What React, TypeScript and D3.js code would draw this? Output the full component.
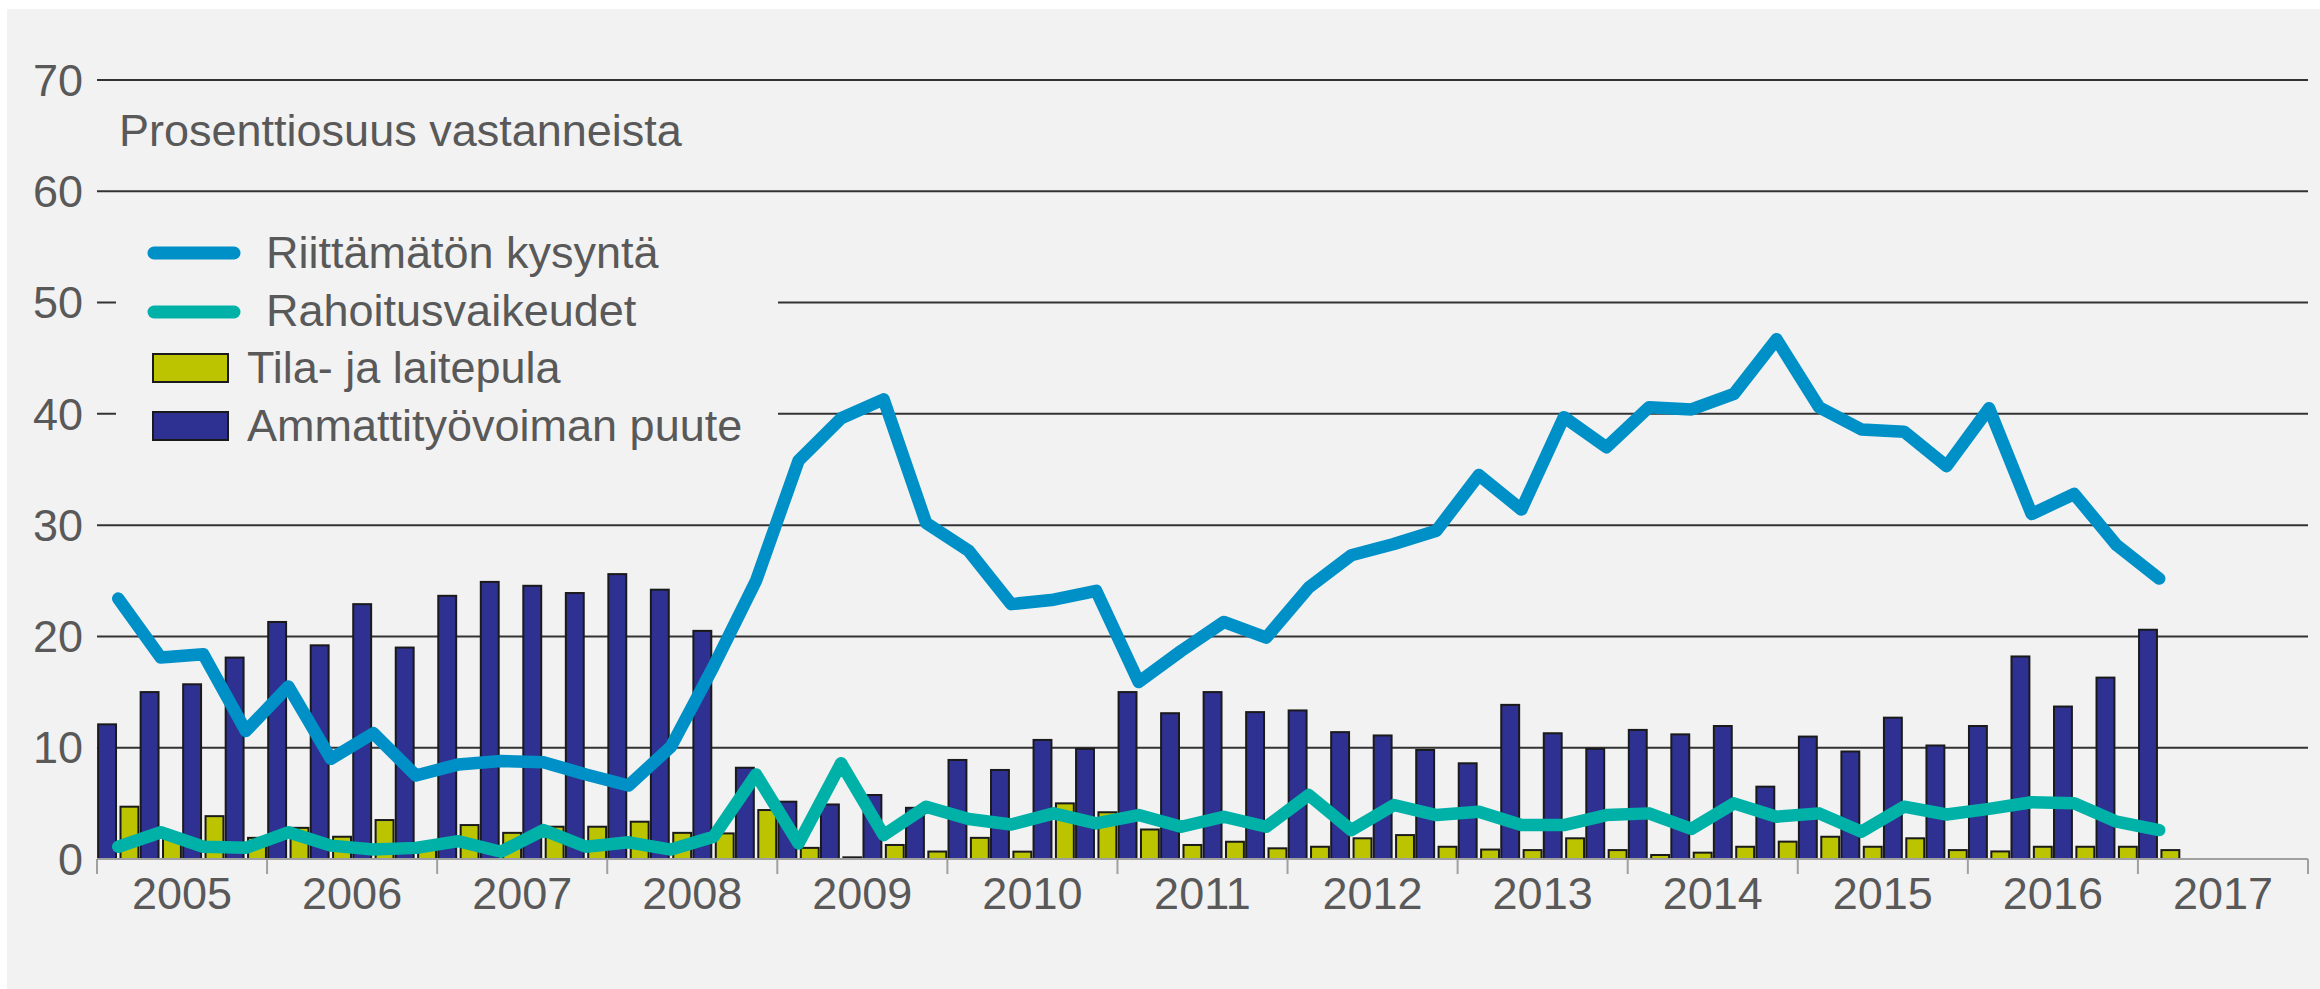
import React from 'react';
import * as d3 from 'd3';

// Vuodet ja neljännekset (2005Q1 - 2017Q1 dataa)
const years = ['2005', '2006', '2007', '2008', '2009', '2010', '2011', '2012', '2013', '2014', '2015', '2016', '2017'];
const quarters = years.flatMap((y) => ['Q1', 'Q2', 'Q3', 'Q4'].map((q) => `${y}${q}`));

const yTicks = [0, 10, 20, 30, 40, 50, 60, 70];

// Riittämätön kysyntä
const kysynta = [
  23.4, 18.1, 18.4, 11.5,
  15.5, 9.0, 11.3, 7.5,
  8.5, 8.8, 8.7, 7.6,
  6.6, 10.1, 17.3, 25.0,
  35.8, 39.6, 41.3, 30.2,
  27.7, 22.9, 23.3, 24.1,
  15.9, 18.7, 21.3, 19.9,
  24.4, 27.3, 28.3, 29.5,
  34.5, 31.4, 39.7, 37.0,
  40.6, 40.4, 41.8, 46.7,
  40.6, 38.6, 38.4, 35.3,
  40.5, 31.0, 32.8, 28.2,
  25.2,
];

// Rahoitusvaikeudet
const rahoitus = [
  1.1, 2.4, 1.1, 1.0,
  2.4, 1.2, 0.85, 1.0,
  1.6, 0.65, 2.6, 1.1,
  1.5, 0.85, 2.0, 7.6,
  1.4, 8.6, 2.15, 4.7,
  3.6, 3.1, 4.1, 3.2,
  3.95, 2.9, 3.8, 2.9,
  5.75, 2.6, 4.85, 3.95,
  4.25, 3.05, 3.05, 3.95,
  4.1, 2.7, 5.0, 3.8,
  4.1, 2.45, 4.7, 4.0,
  4.5, 5.1, 5.0, 3.35,
  2.6,
];

// Tila- ja laitepula
const tilapula = [
  4.7, 2.0, 3.85, 1.9,
  2.8, 2.0, 3.5, 1.3,
  3.05, 2.35, 2.9, 2.9,
  3.35, 2.35, 2.3, 4.4,
  1.0, 0.15, 1.26, 0.67,
  1.9, 0.66, 5.0, 4.2,
  2.65, 1.26, 1.55, 0.96,
  1.1, 1.86, 2.15, 1.1,
  0.85, 0.8, 1.86, 0.8,
  0.36, 0.57, 1.1, 1.56,
  2.0, 1.1, 1.86, 0.8,
  0.68, 1.1, 1.1, 1.1,
  0.8,
];

// Ammattityövoiman puute
const ammatti = [
  12.1, 15.0, 15.7, 18.1,
  21.3, 19.2, 22.9, 19.0,
  23.65, 24.9, 24.55, 23.9,
  25.6, 24.2, 20.5, 8.2,
  5.15, 4.9, 5.75, 4.6,
  8.9, 8.0, 10.7, 9.9,
  15.0, 13.1, 15.0, 13.2,
  13.35, 11.4, 11.1, 9.8,
  8.6, 13.85, 11.3, 9.9,
  11.6, 11.2, 11.95, 6.5,
  11.0, 9.66, 12.7, 10.2,
  11.95, 18.2, 13.7, 16.3,
  20.6,
];

const W = 2320;
const H = 989;
const X0 = 97;
const X1 = 2308;
const Y_ZERO = 859;
const Y_TOP = 80;

const FONT = '"Liberation Sans", Arial, sans-serif';
const FS = 45;
const TEXT = '#595959';
const NAVY = '#2e3192';
const YELLOW = '#bcc400';
const BLUE = '#0090c8';
const TEAL = '#00b1a7';

const App = () => {
  const yScale = d3.scaleLinear().domain([0, 70]).range([Y_ZERO, Y_TOP]);
  const yearScale = d3.scaleBand().domain(years).range([X0, X1]).padding(0);
  const qScale = d3.scaleBand().domain(quarters).range([X0, X1]).padding(0);
  const sub = d3
    .scaleBand()
    .domain(['ammatti', 'tila'])
    .range([0, qScale.bandwidth()])
    .paddingInner(0.2)
    .paddingOuter(0.05);

  const qx = (i: number) => (qScale(quarters[i]) as number) + qScale.bandwidth() / 2;

  const line = d3
    .line<number>()
    .x((d, i) => qx(i))
    .y((d) => yScale(d));

  return (
    <svg width={W} height={H} style={{ position: 'absolute', left: 0, top: 0, display: 'block' }}>
      <rect x={0} y={0} width={W} height={H} fill="#ffffff" />
      <rect x={7} y={9} width={W - 7} height={H - 9} fill="#f2f2f2" />

      {/* ruudukko */}
      {yTicks.filter((t) => t > 0).map((t) => (
        <line key={t} x1={X0} x2={X1} y1={yScale(t)} y2={yScale(t)} stroke="#333333" strokeWidth={2} />
      ))}
      {yTicks.map((t) => (
        <text
          key={t}
          x={83}
          y={yScale(t)}
          dy="0.35em"
          textAnchor="end"
          fontFamily={FONT}
          fontSize={FS}
          fill={TEXT}
        >
          {t}
        </text>
      ))}

      <text x={119} y={146} fontFamily={FONT} fontSize={FS} fill={TEXT}>
        Prosenttiosuus vastanneista
      </text>

      {/* selitteen tausta peittää ruudukon */}
      <rect x={116} y={222} width={662} height={236} fill="#f2f2f2" />

      {/* pylväät */}
      {ammatti.map((v, i) => (
        <rect
          key={`a${i}`}
          x={(qScale(quarters[i]) as number) + (sub('ammatti') as number)}
          y={yScale(v)}
          width={sub.bandwidth()}
          height={Y_ZERO - yScale(v)}
          fill={NAVY}
          stroke="#1a1a1a"
          strokeWidth={2}
        />
      ))}
      {tilapula.map((v, i) => (
        <rect
          key={`t${i}`}
          x={(qScale(quarters[i]) as number) + (sub('tila') as number)}
          y={yScale(v)}
          width={sub.bandwidth()}
          height={Y_ZERO - yScale(v)}
          fill={YELLOW}
          stroke="#1a1a1a"
          strokeWidth={2}
        />
      ))}

      {/* x-akseli */}
      <line x1={X0} x2={X1} y1={Y_ZERO} y2={Y_ZERO} stroke="#a0a0a0" strokeWidth={2} />
      {years.map((y) => (
        <line
          key={`tk${y}`}
          x1={yearScale(y) as number}
          x2={yearScale(y) as number}
          y1={Y_ZERO}
          y2={Y_ZERO + 15}
          stroke="#a0a0a0"
          strokeWidth={2}
        />
      ))}
      <line x1={X1} x2={X1} y1={Y_ZERO} y2={Y_ZERO + 15} stroke="#a0a0a0" strokeWidth={2} />
      {years.map((y) => (
        <text
          key={`yl${y}`}
          x={(yearScale(y) as number) + yearScale.bandwidth() / 2}
          y={909}
          textAnchor="middle"
          fontFamily={FONT}
          fontSize={FS}
          fill={TEXT}
        >
          {y}
        </text>
      ))}

      {/* viivat */}
      <path d={line(rahoitus) as string} fill="none" stroke={TEAL} strokeWidth={12.5} strokeLinejoin="round" strokeLinecap="round" />
      <path d={line(kysynta) as string} fill="none" stroke={BLUE} strokeWidth={12.5} strokeLinejoin="round" strokeLinecap="round" />

      {/* selite */}
      <line x1={154} x2={234} y1={253} y2={253} stroke={BLUE} strokeWidth={13} strokeLinecap="round" />
      <text x={266} y={268} fontFamily={FONT} fontSize={FS} fill={TEXT}>Riittämätön kysyntä</text>
      <line x1={154} x2={234} y1={312} y2={312} stroke={TEAL} strokeWidth={13} strokeLinecap="round" />
      <text x={266} y={326} fontFamily={FONT} fontSize={FS} fill={TEXT}>Rahoitusvaikeudet</text>
      <rect x={153} y={354} width={75} height={28} fill={YELLOW} stroke="#1a1a1a" strokeWidth={2} />
      <text x={247} y={383} fontFamily={FONT} fontSize={FS} fill={TEXT}>Tila- ja laitepula</text>
      <rect x={153} y={412} width={75} height={28} fill={NAVY} stroke="#1a1a1a" strokeWidth={2} />
      <text x={247} y={441} fontFamily={FONT} fontSize={FS} fill={TEXT}>Ammattityövoiman puute</text>
    </svg>
  );
};

export default App;
